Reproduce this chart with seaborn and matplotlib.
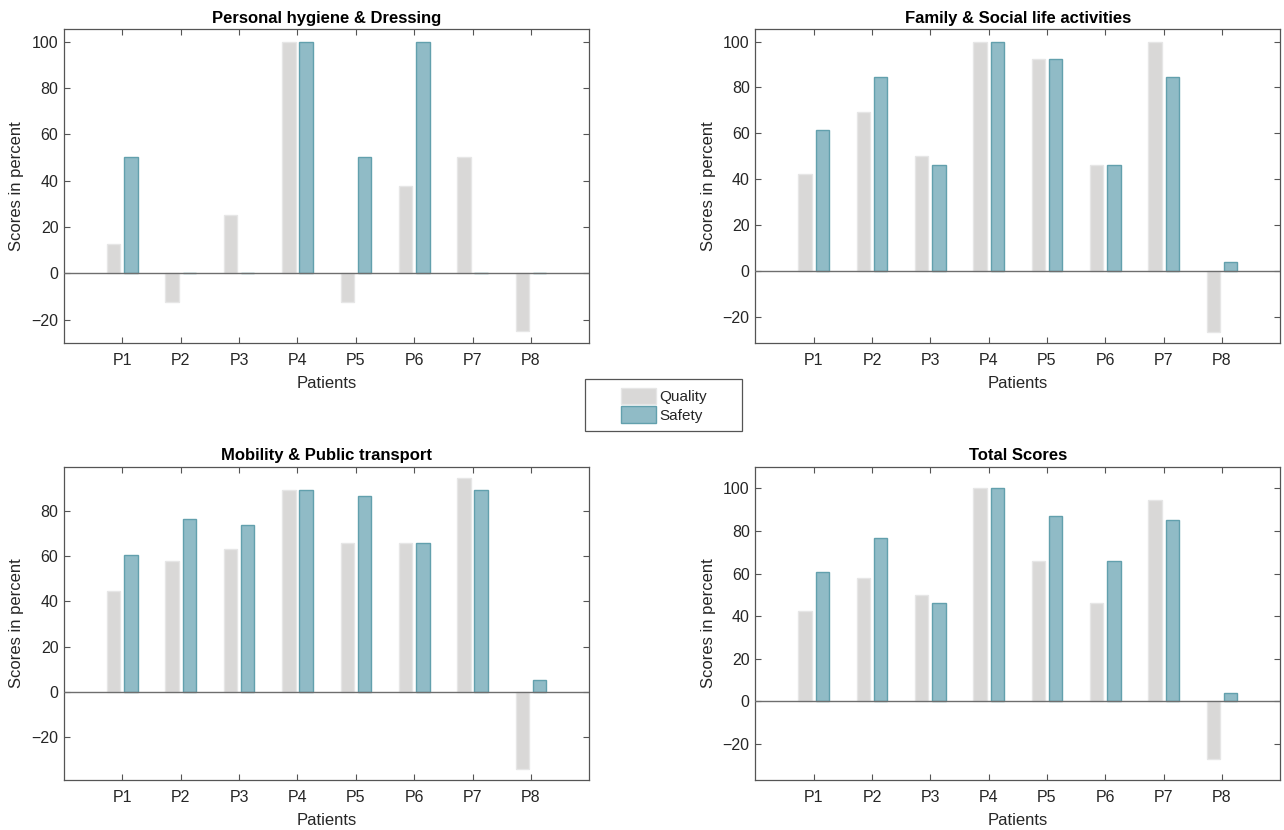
import numpy as np
import pandas as pd
import matplotlib
matplotlib.use("Agg")
import matplotlib.pyplot as plt
from matplotlib.patches import Rectangle, Patch
import seaborn as sns

# ---------------- data ----------------
patients = ["P1", "P2", "P3", "P4", "P5", "P6", "P7", "P8"]
series = ["Quality", "Safety"]
titles = ["Personal hygiene & Dressing", "Family & Social life activities",
          "Mobility & Public transport", "Total Scores"]

hyg_quality = [12.5, -12.5, 25.0, 100.0, -12.5, 37.5, 50.0, -25.0]
hyg_safety = [50.0, 0.0, 0.0, 100.0, 50.0, 100.0, 0.0, 0.0]
fam_quality = [42.3, 69.2, 50.0, 100.0, 92.3, 46.2, 100.0, -26.9]
fam_safety = [61.5, 84.6, 46.2, 100.0, 92.3, 46.2, 84.6, 3.8]
mob_quality = [44.7, 57.9, 63.2, 89.5, 65.8, 65.8, 94.7, -34.2]
mob_safety = [60.5, 76.3, 73.7, 89.5, 86.8, 65.8, 89.5, 5.3]
tot_quality = [42.5, 58.0, 50.0, 100.0, 65.9, 46.3, 94.8, -27.0]
tot_safety = [60.8, 76.5, 46.3, 100.0, 87.0, 65.9, 85.0, 3.8]

panels = [(hyg_quality, hyg_safety), (fam_quality, fam_safety),
          (mob_quality, mob_safety), (tot_quality, tot_safety)]
ylims = [(-30.2, 105.3), (-31.7, 105.4), (-39.2, 99.6), (-37.0, 110.2)]

# ---------------- style ----------------
sns.set_theme(style="white")
plt.rcParams["font.family"] = ["Liberation Sans", "DejaVu Sans"]

q_face, q_edge = "#d9d8d7", "#e6e6e6"
s_face, s_edge = "#90bbc6", "#62a0ad"
axis_col = "#555555"
text_col = "#262626"

fig = plt.figure(figsize=(12.84, 8.30), dpi=100)
W, H = 1284.0, 830.0
boxes = [(64, 29.3, 589.3, 343.3), (755.3, 29.3, 1280.3, 343.3),
         (64, 466.7, 589.3, 780.3), (755.3, 466.7, 1280.3, 780.3)]

for i, ((q, s), (x0, y0, x1, y1)) in enumerate(zip(panels, boxes)):
    ax = fig.add_axes([x0 / W, 1 - y1 / H, (x1 - x0) / W, (y1 - y0) / H])
    df = pd.DataFrame({
        "Patient": patients * 2,
        "Score": list(q) + list(s),
        "Series": ["Quality"] * len(q) + ["Safety"] * len(s),
    })
    sns.barplot(data=df, x="Patient", y="Score", hue="Series",
                order=patients, hue_order=series,
                palette=[q_face, s_face], width=0.59, gap=0.22,
                errorbar=None, legend=False, ax=ax, saturation=1)
    for cont, ec in zip(ax.containers, [q_edge, s_edge]):
        for bar in cont:
            bar.set_edgecolor(ec)
            bar.set_linewidth(1.0)
    ax.axhline(0, color="#6e6e6e", lw=1.0, zorder=3)
    lo, hi = ylims[i]
    ax.set_yticks([t for t in range(-20, 101, 20) if lo <= t <= hi])
    ax.set_xlim(-1, 8)
    ax.set_ylim(lo, hi)
    ax.set_title(titles[i], fontsize=12, fontweight="bold", color="black", pad=4.5)
    ax.set_xlabel("Patients", fontsize=12, color=text_col, labelpad=5.5)
    ax.set_ylabel("Scores in percent", fontsize=12, color=text_col, labelpad=5)
    ax.tick_params(axis="both", which="both", direction="in", length=4, width=0.8,
                   colors=axis_col, labelcolor=text_col, labelsize=11.5,
                   top=True, right=True, bottom=True, left=True)
    ax.tick_params(axis="x", pad=7)
    ax.tick_params(axis="y", pad=4)
    for sp in ax.spines.values():
        sp.set_color(axis_col)
        sp.set_linewidth(0.9)
        sp.set_visible(True)

# ---------------- legend ----------------
lx0, ly0, lx1, ly1 = 585.3, 379.0, 742.3, 431.3
fig.patches.append(Rectangle((lx0 / W, 1 - ly1 / H), (lx1 - lx0) / W, (ly1 - ly0) / H,
                             transform=fig.transFigure, facecolor="white",
                             edgecolor=axis_col, linewidth=0.9, zorder=5))
handles = [Patch(facecolor=q_face, edgecolor=q_edge, label="Quality"),
           Patch(facecolor=s_face, edgecolor=s_edge, label="Safety")]
leg = fig.legend(handles=handles, loc="center",
                 bbox_to_anchor=((lx0 + lx1) / 2 / W, 1 - (ly0 + ly1) / 2 / H),
                 frameon=False, fontsize=11, handlelength=2.3, handleheight=1.3,
                 handletextpad=0.2, labelspacing=0.12, borderpad=0.2,
                 labelcolor=text_col)
leg.set_zorder(6)

fig.savefig("out.png", dpi=100, facecolor="white")
